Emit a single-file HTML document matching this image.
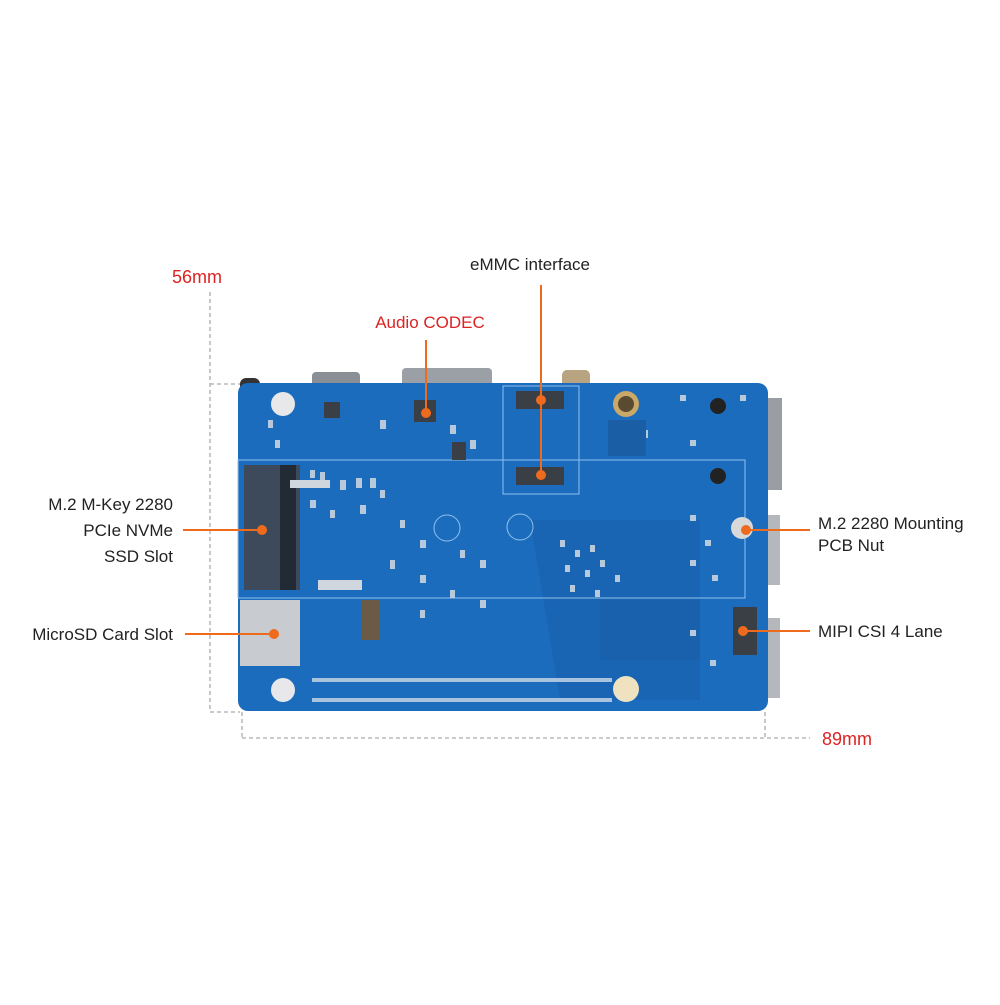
<!DOCTYPE html>
<html><head><style>
body{margin:0;background:#fff;}
svg text{font-family:"Liberation Sans",sans-serif;font-size:17px;fill:#222;}
</style></head><body>
<svg width="1000" height="1000" viewBox="0 0 1000 1000" xmlns="http://www.w3.org/2000/svg">
<g stroke="#aaa" stroke-width="1.3" stroke-dasharray="4,3" fill="none">
<line x1="210" y1="292" x2="210" y2="712"/>
<line x1="210" y1="384" x2="240" y2="384"/>
<line x1="210" y1="712" x2="240" y2="712"/>
<line x1="242" y1="712" x2="242" y2="738"/>
<line x1="765" y1="712" x2="765" y2="738"/>
<line x1="242" y1="738" x2="810" y2="738"/>
</g>
<text x="172" y="283" style="fill:#d22;font-size:18px">56mm</text>
<text x="822" y="745" style="fill:#d22;font-size:18px">89mm</text>
<rect x="312" y="372" width="48" height="16" rx="4" fill="#8a8f96"/>
<rect x="402" y="368" width="90" height="20" rx="4" fill="#9aa0a6"/>
<rect x="562" y="370" width="28" height="18" rx="5" fill="#b8a480"/>
<rect x="240" y="378" width="20" height="40" rx="6" fill="#333"/>
<rect x="764" y="398" width="18" height="92" fill="#9a9ea4"/>
<rect x="764" y="515" width="16" height="70" fill="#b4b8bc"/>
<rect x="764" y="618" width="16" height="80" fill="#b4b8bc"/>
<rect x="238" y="383" width="530" height="328" rx="10" fill="#1c6cbe"/>
<path d="M530 520 L700 520 L700 700 L560 700 Z" fill="#1861ae" opacity="0.7"/>
<rect x="600" y="600" width="100" height="60" fill="#1b5fa8" opacity="0.6"/>
<rect x="238" y="460" width="507" height="138" fill="none" stroke="#8fc0ee" stroke-width="1"/>
<rect x="503" y="386" width="76" height="108" fill="none" stroke="#8fc0ee" stroke-width="1"/>
<circle cx="447" cy="528" r="13" fill="none" stroke="#8fc0ee"/>
<circle cx="520" cy="527" r="13" fill="none" stroke="#8fc0ee"/>
<!-- scattered components -->
<g fill="#b9c9dc">
<rect x="310" y="470" width="5" height="8"/><rect x="320" y="472" width="5" height="8"/><rect x="340" y="480" width="6" height="10"/>
<rect x="356" y="478" width="6" height="10"/><rect x="370" y="478" width="6" height="10"/><rect x="380" y="490" width="5" height="8"/>
<rect x="310" y="500" width="6" height="8"/><rect x="330" y="510" width="5" height="8"/><rect x="360" y="505" width="6" height="9"/>
<rect x="400" y="520" width="5" height="8"/><rect x="420" y="540" width="6" height="8"/><rect x="460" y="550" width="5" height="8"/>
<rect x="480" y="560" width="6" height="8"/><rect x="390" y="560" width="5" height="9"/><rect x="420" y="575" width="6" height="8"/>
<rect x="450" y="590" width="5" height="8"/><rect x="480" y="600" width="6" height="8"/><rect x="420" y="610" width="5" height="8"/>
<rect x="560" y="540" width="5" height="7"/><rect x="575" y="550" width="5" height="7"/><rect x="590" y="545" width="5" height="7"/>
<rect x="565" y="565" width="5" height="7"/><rect x="585" y="570" width="5" height="7"/><rect x="600" y="560" width="5" height="7"/>
<rect x="570" y="585" width="5" height="7"/><rect x="595" y="590" width="5" height="7"/><rect x="615" y="575" width="5" height="7"/>
<rect x="380" y="420" width="6" height="9"/><rect x="450" y="425" width="6" height="9"/><rect x="470" y="440" width="6" height="9"/>
<rect x="620" y="420" width="10" height="10"/><rect x="640" y="430" width="8" height="8"/>
<rect x="268" y="420" width="5" height="8"/><rect x="275" y="440" width="5" height="8"/>
<rect x="690" y="515" width="6" height="6"/><rect x="705" y="540" width="6" height="6"/><rect x="690" y="560" width="6" height="6"/>
<rect x="712" y="575" width="6" height="6"/><rect x="690" y="630" width="6" height="6"/><rect x="710" y="660" width="6" height="6"/>
<rect x="680" y="395" width="6" height="6"/><rect x="740" y="395" width="6" height="6"/><rect x="690" y="440" width="6" height="6"/>
</g>
<rect x="244" y="465" width="56" height="125" fill="#3d4a5c"/>
<rect x="280" y="465" width="16" height="125" fill="#222a35"/>
<rect x="240" y="600" width="60" height="66" fill="#c8ccd0"/>
<circle cx="283" cy="404" r="12" fill="#e8e8ea"/>
<circle cx="626" cy="404" r="13" fill="#c9a868"/><circle cx="626" cy="404" r="8" fill="#5a4a30"/>
<circle cx="283" cy="690" r="12" fill="#e8e8ea"/>
<circle cx="626" cy="689" r="13" fill="#efe2c0"/>
<circle cx="742" cy="528" r="11" fill="#d8d8d8"/>
<rect x="414" y="400" width="22" height="22" fill="#3a3f46"/>
<rect x="324" y="402" width="16" height="16" fill="#3a3f46"/>
<rect x="452" y="442" width="14" height="18" fill="#3a3f46"/>
<rect x="516" y="391" width="48" height="18" fill="#3a3f46"/>
<rect x="516" y="467" width="48" height="18" fill="#3a3f46"/>
<rect x="733" y="607" width="24" height="48" fill="#3a3f46"/>
<rect x="362" y="600" width="18" height="40" fill="#6b5a45"/>
<rect x="608" y="420" width="38" height="36" fill="#1a5ea6"/>
<circle cx="718" cy="406" r="8" fill="#222"/><circle cx="718" cy="476" r="8" fill="#222"/>
<g fill="#cfd6de">
<rect x="318" y="580" width="44" height="10"/>
<rect x="290" y="480" width="40" height="8"/>
</g>
<g fill="#a9c3df">
<rect x="312" y="678" width="300" height="4"/>
<rect x="312" y="698" width="300" height="4"/>
</g>
<g stroke="#ee6a1c" stroke-width="2" fill="#ee6a1c">
<line x1="541" y1="285" x2="541" y2="475"/>
<circle cx="541" cy="400" r="4"/><circle cx="541" cy="475" r="4"/>
<line x1="426" y1="340" x2="426" y2="413"/><circle cx="426" cy="413" r="4"/>
<line x1="183" y1="530" x2="262" y2="530"/><circle cx="262" cy="530" r="4"/>
<line x1="185" y1="634" x2="274" y2="634"/><circle cx="274" cy="634" r="4"/>
<line x1="746" y1="530" x2="810" y2="530"/><circle cx="746" cy="530" r="4"/>
<line x1="743" y1="631" x2="810" y2="631"/><circle cx="743" cy="631" r="4"/>
</g>
<text x="530" y="270" text-anchor="middle">eMMC interface</text>
<text x="430" y="328" text-anchor="middle" style="fill:#d22">Audio CODEC</text>
<text x="173" y="510" text-anchor="end">M.2 M-Key 2280</text>
<text x="173" y="536" text-anchor="end">PCIe NVMe</text>
<text x="173" y="562" text-anchor="end">SSD Slot</text>
<text x="173" y="640" text-anchor="end">MicroSD Card Slot</text>
<text x="818" y="529">M.2 2280 Mounting</text>
<text x="818" y="551">PCB Nut</text>
<text x="818" y="637">MIPI CSI 4 Lane</text>
</svg>
</body></html>
